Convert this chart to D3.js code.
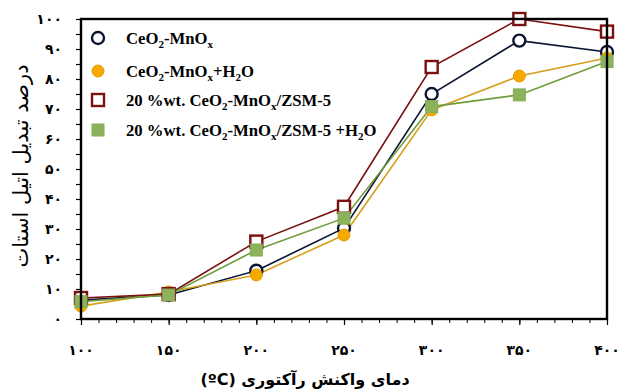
<!DOCTYPE html>
<html>
<head>
<meta charset="utf-8">
<script src="https://cdnjs.cloudflare.com/ajax/libs/d3/7.8.5/d3.min.js"></script>
<style>
  body { margin: 0; background: #fff; }
  svg { display: block; }
</style>
</head>
<body>
<svg id="chart" width="619" height="392"></svg>
<script>
// temperatures (x) and conversion % for each catalyst
var temps = [100, 150, 200, 250, 300, 350, 400];
var ceMn = [6.3, 8, 16.1, 30.3, 75, 92.8, 89];
var ceMnH2O = [4.3, 9, 14.7, 28, 69.7, 81, 87];
var zsm = [7, 8.3, 25.8, 37.4, 84, 100, 95.8];
var zsmH2O = [5.8, 8, 23, 33.6, 70.8, 74.7, 85.8];
var xTicks = [100, 150, 200, 250, 300, 350, 400];
var yTicks = [0, 10, 20, 30, 40, 50, 60, 70, 80, 90, 100];

var series = [
  { values: ceMn, line: "#0b1430", marker: "circle", fill: "#fff", stroke: "#0b1430",
    label: [["CeO", ""], ["2", "sub"], ["-MnO", ""], ["x", "sub"]] },
  { values: ceMnH2O, line: "#d69e1a", marker: "circle", fill: "#f6aa00", stroke: "#e39c00",
    label: [["CeO", ""], ["2", "sub"], ["-MnO", ""], ["x", "sub"], ["+H", ""], ["2", "sub"], ["O", ""]] },
  { values: zsm, line: "#7a1010", marker: "square", fill: "#fff", stroke: "#7a1010",
    label: [["20 %wt. CeO", ""], ["2", "sub"], ["-MnO", ""], ["x", "sub"], ["/ZSM-5", ""]] },
  { values: zsmH2O, line: "#6f9c3c", marker: "square", fill: "#8cb35c", stroke: "#86ad57",
    label: [["20 %wt. CeO", ""], ["2", "sub"], ["-MnO", ""], ["x", "sub"], ["/ZSM-5 +H", ""], ["2", "sub"], ["O", ""]] }
];

function fa(n) {
  return String(n).replace(/[0-9]/g, function(c) { return "۰۱۲۳۴۵۶۷۸۹"[+c]; });
}

var svg = d3.select("#chart");
var plotLeft = 81, plotRight = 607, plotTop = 19, plotBottom = 319;

var x = d3.scaleLinear().domain([100, 400]).range([plotLeft, plotRight]);
var y = d3.scaleLinear().domain([0, 100]).range([plotBottom, plotTop]);

// minor ticks on y (every 5), x (every 10)
svg.append("g")
  .attr("transform", "translate(" + plotLeft + ",0)")
  .call(d3.axisLeft(y).tickValues(d3.range(0, 101, 5)).tickSize(5).tickFormat(""))
  .call(function(g) { g.select(".domain").remove(); g.selectAll("line").attr("stroke", "#000").attr("stroke-width", 1.2); });

svg.append("g")
  .attr("transform", "translate(0," + plotBottom + ")")
  .call(d3.axisBottom(x).tickValues(d3.range(100, 401, 10)).tickSize(4).tickFormat(""))
  .call(function(g) { g.select(".domain").remove(); g.selectAll("line").attr("stroke", "#000").attr("stroke-width", 1); });

svg.append("g")
  .attr("transform", "translate(0," + plotBottom + ")")
  .call(d3.axisBottom(x).tickValues(xTicks).tickSize(6).tickFormat(""))
  .call(function(g) { g.select(".domain").remove(); g.selectAll("line").attr("stroke", "#000").attr("stroke-width", 1.2); });

// tick labels
svg.append("g").selectAll("text").data(yTicks).enter().append("text")
  .attr("x", 62).attr("y", function(d) { return y(d) + 5; })
  .attr("text-anchor", "end")
  .attr("font-family", "DejaVu Sans, sans-serif").attr("font-weight", "bold").attr("font-size", 14)
  .text(function(d) { return fa(d); });

svg.append("g").selectAll("text").data(xTicks).enter().append("text")
  .attr("x", function(d) { return x(d); }).attr("y", 355)
  .attr("text-anchor", "middle")
  .attr("font-family", "DejaVu Sans, sans-serif").attr("font-weight", "bold").attr("font-size", 14)
  .text(function(d) { return fa(d); });

// lines and markers
var line = d3.line().x(function(d, i) { return x(temps[i]); }).y(function(d) { return y(d); });

series.forEach(function(s) {
  svg.append("path").datum(s.values)
    .attr("d", line).attr("fill", "none").attr("stroke", s.line).attr("stroke-width", 1.6);
});

function drawMarker(g, s, cx, cy) {
  if (s.marker === "circle") {
    g.append("circle").attr("cx", cx).attr("cy", cy).attr("r", 6)
      .attr("fill", s.fill).attr("stroke", s.stroke).attr("stroke-width", s.fill === "#fff" ? 2.4 : 1);
  } else {
    g.append("rect").attr("x", cx - 6).attr("y", cy - 6).attr("width", 12).attr("height", 12)
      .attr("fill", s.fill).attr("stroke", s.stroke).attr("stroke-width", s.fill === "#fff" ? 2.4 : 1);
  }
}

series.forEach(function(s) {
  var g = svg.append("g");
  s.values.forEach(function(v, i) { drawMarker(g, s, x(temps[i]), y(v)); });
});

// plot frame
svg.append("rect").attr("x", plotLeft).attr("y", plotTop)
  .attr("width", plotRight - plotLeft).attr("height", plotBottom - plotTop)
  .attr("fill", "none").attr("stroke", "#000").attr("stroke-width", 2.4);

// legend
var legY = [38, 71, 100, 130];
series.forEach(function(s, i) {
  var g = svg.append("g");
  drawMarker(g, s, 98, legY[i]);
  var t = g.append("text").attr("x", 126).attr("y", legY[i] + 6)
    .attr("font-family", "Liberation Serif, Times New Roman, serif").attr("font-weight", "bold").attr("font-size", 16.7);
  var shifted = false;
  s.label.forEach(function(p) {
    var ts = t.append("tspan").text(p[0]);
    if (p[1] === "sub") {
      ts.attr("font-size", 11).attr("dy", shifted ? 0 : 4);
      shifted = true;
    } else {
      ts.attr("dy", shifted ? -4 : 0);
      shifted = false;
    }
  });
});

// axis titles
svg.append("text")
  .attr("transform", "translate(28,166) rotate(-90)")
  .attr("text-anchor", "middle")
  .attr("font-family", "DejaVu Sans, sans-serif").attr("font-size", 21)
  .attr("direction", "rtl")
  .text("درصد تبدیل اتیل استات");

svg.append("text")
  .attr("x", 305).attr("y", 385)
  .attr("text-anchor", "middle")
  .attr("font-family", "DejaVu Sans, sans-serif").attr("font-weight", "bold").attr("font-size", 16)
  .attr("direction", "rtl")
  .text("دمای واکنش رآکتوری (ºC)");
</script>
</body>
</html>
